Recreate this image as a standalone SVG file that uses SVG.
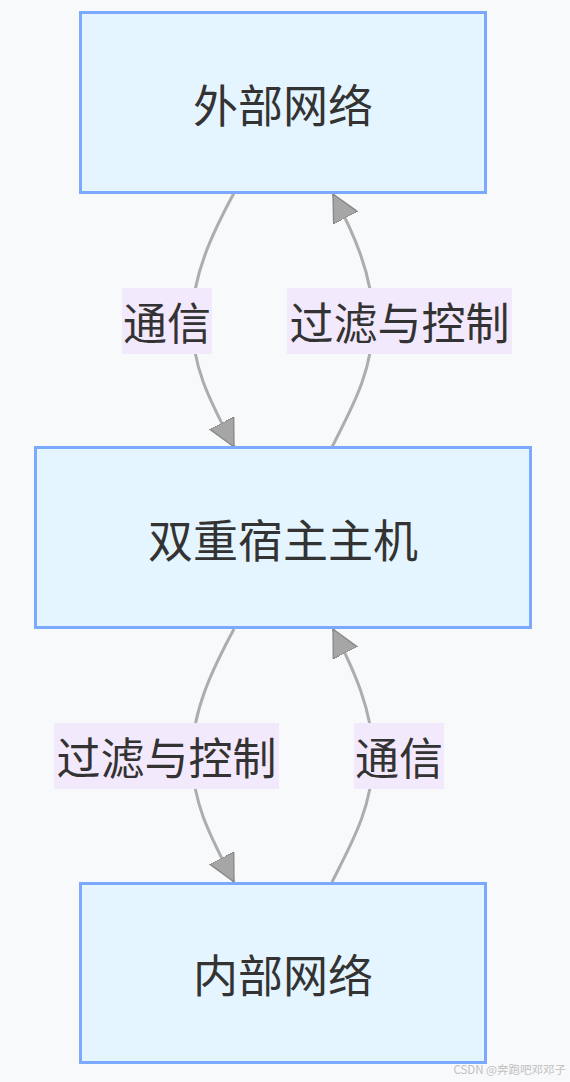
<svg xmlns="http://www.w3.org/2000/svg" width="570" height="1082" viewBox="0 0 570 1082">
<style>
.node rect{fill:#e5f5ff;stroke:#7aa9fd;stroke-width:3}
.node text{font-family:"Noto Sans CJK SC","Noto Sans",sans-serif;font-size:45px;fill:#333;text-anchor:middle;dominant-baseline:central}
.edge{fill:none;stroke:#adadad;stroke-width:3;marker-end:url(#arr)}
.lbl rect{fill:#f3e9fc}
.lbl text{font-family:"Noto Sans CJK SC","Noto Sans",sans-serif;font-size:44px;fill:#333;text-anchor:middle;dominant-baseline:central}
</style>
<defs>
<marker id="arr" viewBox="0 0 10 10" refX="10" refY="5" markerUnits="userSpaceOnUse" markerWidth="27" markerHeight="28" orient="auto">
<path d="M0,0 L10,5 L0,10 z" fill="#a6a6a6" stroke="#878787" stroke-width="0.5"/>
</marker>
</defs>
<rect x="0" y="0" width="570" height="1082" fill="#f8f9fb"/>
<g id="connectors">
<path class="edge" d="M234,193 C213,232 192,275 192,321 C192,370 213,406 234,447"/>
<path class="edge" d="M332,447 C353,406 373,370 373,321 C373,275 353,232 333,194"/>
<path class="edge" d="M234,629 C213,668 192,711 192,756 C192,805 213,841 234,882"/>
<path class="edge" d="M332,882 C353,841 373,805 373,756 C373,711 353,668 333,629"/>
<g class="lbl" id="label-1"><rect x="122" y="288" width="90" height="66"/><text x="167" y="321">通信</text></g>
<g class="lbl" id="label-2"><rect x="287" y="288" width="225" height="66"/><text x="399.5" y="321">过滤与控制</text></g>
<g class="lbl" id="label-3"><rect x="54" y="723" width="225" height="66"/><text x="166.5" y="756">过滤与控制</text></g>
<g class="lbl" id="label-4"><rect x="354" y="723" width="90" height="66"/><text x="399" y="756">通信</text></g>
</g>
<g class="node" id="external"><rect x="80.5" y="12.5" width="405" height="180"/><text x="283" y="103">外部网络</text></g>
<g class="node" id="host"><rect x="35.5" y="447.5" width="495" height="180"/><text x="283" y="538">双重宿主主机</text></g>
<g class="node" id="internal"><rect x="80.5" y="883.5" width="405" height="179"/><text x="283" y="973">内部网络</text></g>
<text x="566" y="1074" font-family="'Noto Sans CJK SC','Noto Sans',sans-serif" font-size="11.5" fill="#c0c0c0" text-anchor="end">CSDN @奔跑吧邓邓子</text>
</svg>
